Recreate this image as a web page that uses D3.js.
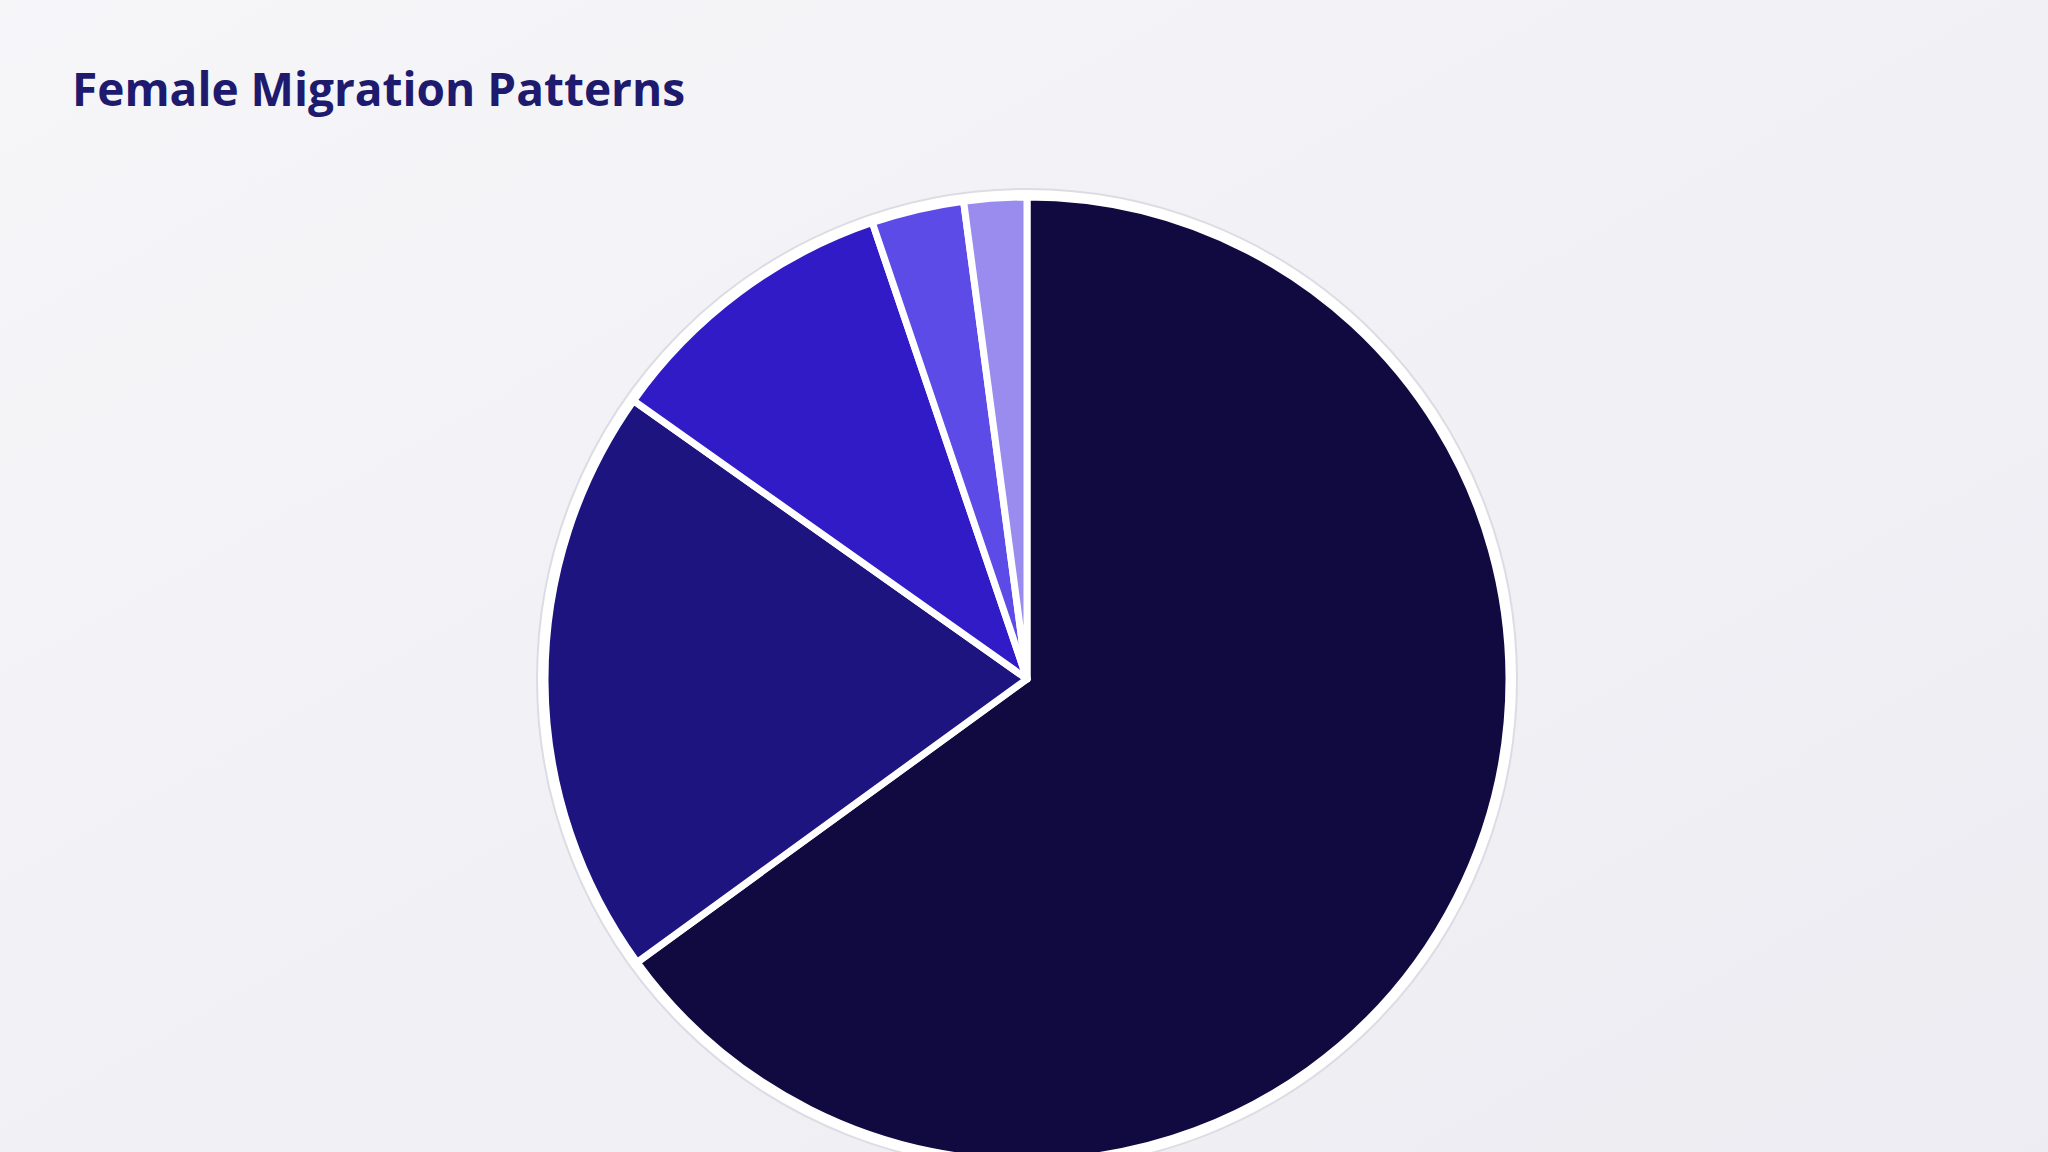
<!DOCTYPE html>
<html><head><meta charset="utf-8">
<script src="https://cdn.jsdelivr.net/npm/d3@7"></script>
<style>body{margin:0;background:#f4f4f7;}svg{display:block}</style>
</head><body>
<script>
const categories = ["Category A","Category B","Category C","Category D","Category E"];
const values = [65, 19.8, 10, 3.1, 2.1];
const colors = ["#110a40","#1e1480","#311bc7","#5c4be6","#9a8bef"];

const W=2048,H=1152;
const svg=d3.select("body").append("svg").attr("width",W).attr("height",H);
const defs=svg.append("defs");
const g0=defs.append("linearGradient").attr("id","bg").attr("x1","0").attr("y1","0").attr("x2","1").attr("y2","1");
g0.append("stop").attr("offset","0").attr("stop-color","#f6f6f9");
g0.append("stop").attr("offset","1").attr("stop-color","#ececf2");
svg.append("rect").attr("width",W).attr("height",H).attr("fill","url(#bg)");

svg.append("text").attr("x",72).attr("y",106).text("Female Migration Patterns")
 .attr("font-family","Open Sans, Noto Sans, sans-serif").attr("font-weight",700)
 .attr("font-size",46).attr("fill","#1e1a6e");

const cx=1027,cy=679,r=482;
const g=svg.append("g").attr("transform",`translate(${cx},${cy})`);
g.append("circle").attr("r",r+8).attr("fill","#ffffff").attr("stroke","#dcdce4").attr("stroke-width",2);
const pie=d3.pie().sort(null).value(d=>d)(values);
const arc=d3.arc().innerRadius(0).outerRadius(r);
g.selectAll("path").data(pie).join("path").attr("d",arc)
 .attr("fill",(d,i)=>colors[i]).attr("stroke","#ffffff").attr("stroke-width",7).attr("stroke-linejoin","round");
</script>
</body></html>
